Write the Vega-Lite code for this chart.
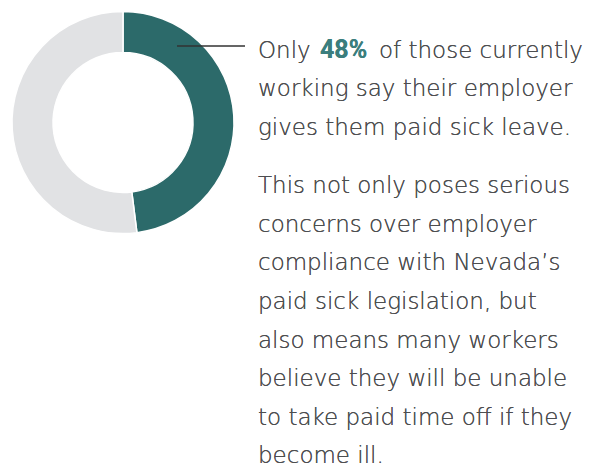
{
  "$schema": "https://vega.github.io/schema/vega-lite/v6.json",
  "width": 591,
  "height": 470,
  "padding": 0,
  "autosize": "none",
  "background": "white",
  "config": {"view": {"stroke": null}},
  "data": {"values": [
    {"answer": "Employer gives paid sick leave", "pct": 48},
    {"answer": "No paid sick leave", "pct": 52}
  ]},
  "layer": [
    {
      "mark": {"type": "arc", "outerRadius": 111, "innerRadius": 70, "stroke": "white", "strokeWidth": 1.5},
      "encoding": {
        "theta": {"field": "pct", "type": "quantitative", "stack": true},
        "order": {"field": "pct", "type": "quantitative"},
        "color": {"field": "answer", "type": "nominal", "legend": null,
          "scale": {"domain": ["Employer gives paid sick leave", "No paid sick leave"], "range": ["#2c6a6a", "#e1e2e4"]}},
        "x": {"datum": 123, "type": "quantitative", "scale": {"domain": [0, 591], "nice": false, "zero": false}, "axis": null},
        "y": {"datum": 122.5, "type": "quantitative", "scale": {"domain": [0, 470], "nice": false, "zero": false, "reverse": true}, "axis": null}
      }
    },
    {
      "mark": {"type": "rule", "color": "#333333", "strokeWidth": 1},
      "encoding": {
        "x": {"datum": 177, "type": "quantitative"},
        "x2": {"datum": 245},
        "y": {"datum": 46, "type": "quantitative"}
      }
    },
    {
      "mark": {"type": "text", "align": "left", "baseline": "alphabetic", "font": "DejaVu Sans", "fontWeight": 200, "fontSize": 23, "color": "#4d4e50"},
      "encoding": {
        "x": {"datum": 258, "type": "quantitative"},
        "y": {"datum": 57.7, "type": "quantitative"},
        "text": {"value": "Only"}
      }
    },
    {
      "mark": {"type": "text", "align": "left", "baseline": "alphabetic", "font": "Roboto", "fontWeight": 700, "fontSize": 25, "color": "#3b7e7d"},
      "encoding": {
        "x": {"datum": 320, "type": "quantitative"},
        "y": {"datum": 57.7, "type": "quantitative"},
        "text": {"value": "48%"}
      }
    },
    {
      "mark": {"type": "text", "align": "left", "baseline": "alphabetic", "font": "DejaVu Sans", "fontWeight": 200, "fontSize": 23, "color": "#4d4e50"},
      "encoding": {
        "x": {"datum": 379, "type": "quantitative"},
        "y": {"datum": 57.7, "type": "quantitative"},
        "text": {"value": "of those currently"}
      }
    },
    {
      "mark": {"type": "text", "align": "left", "baseline": "alphabetic", "font": "DejaVu Sans", "fontWeight": 200, "fontSize": 23, "color": "#4d4e50", "lineBreak": "\n", "lineHeight": 38.6},
      "encoding": {
        "x": {"datum": 258, "type": "quantitative"},
        "y": {"datum": 96.3, "type": "quantitative"},
        "text": {"value": "working say their employer\ngives them paid sick leave."}
      }
    },
    {
      "mark": {"type": "text", "align": "left", "baseline": "alphabetic", "font": "DejaVu Sans", "fontWeight": 200, "fontSize": 23, "color": "#4d4e50", "lineBreak": "\n", "lineHeight": 38.6},
      "encoding": {
        "x": {"datum": 258, "type": "quantitative"},
        "y": {"datum": 193.3, "type": "quantitative"},
        "text": {"value": "This not only poses serious\nconcerns over employer\ncompliance with Nevada’s\npaid sick legislation, but\nalso means many workers\nbelieve they will be unable\nto take paid time off if they\nbecome ill."}
      }
    }
  ]
}
